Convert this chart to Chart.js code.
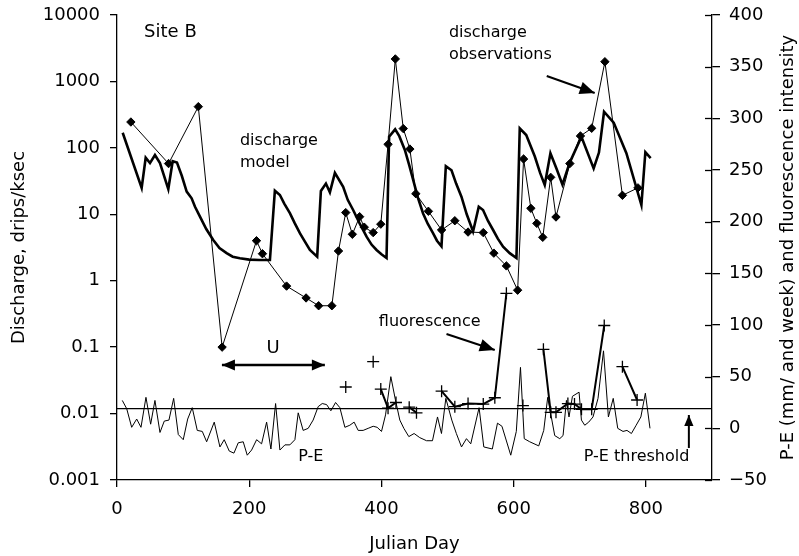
<!DOCTYPE html>
<html>
<head>
<meta charset="utf-8">
<script src="https://cdn.jsdelivr.net/npm/chart.js@4.4.1/dist/chart.umd.min.js"></script>
<style>
  html, body { margin: 0; padding: 0; background: #fff; }
  canvas { display: block; }
</style>
</head>
<body>
<canvas id="chart" width="799" height="556"></canvas>
<script>
// axes
const xTicks = [0, 200, 400, 600, 800];
const dischargeTicks = [0.001, 0.01, 0.1, 1, 10, 100, 1000, 10000];
const rightTicks = [-50, 0, 50, 100, 150, 200, 250, 300, 350, 400];

// discharge observations (drips/ksec)
const obsDays = [21, 78, 123, 159, 211, 220, 256.5, 286, 305, 325, 335, 346, 356, 367, 374, 387.5, 399, 410, 421, 433,
  443, 452, 471, 491, 511, 531, 554, 570, 589, 606, 615, 626, 635, 644, 656, 664, 685, 701, 718, 738, 764.5, 788];
const obsValues = [245, 58, 417, 0.1, 4.0, 2.55, 0.83, 0.55, 0.42, 0.42, 2.8, 10.6, 5.0, 9.2, 6.4, 5.3, 7.1, 113, 2180, 195,
  96, 20.4, 11.1, 5.8, 8.0, 5.4, 5.3, 2.6, 1.67, 0.72, 68, 12.3, 7.3, 4.5, 36, 9.1, 58, 151, 197, 1980, 19.3, 25];

// discharge model
const modelDays = [8.6, 37.3, 43.4, 49.9, 57.4, 65, 77.6, 84.2, 90.7, 98, 105.4, 112.9, 118, 125.5, 135, 145.6, 155, 165.8, 175, 185.9,
  200, 215, 231.3, 238.8, 246.4, 253, 261.5, 269, 276.6, 284, 291.8, 302.8, 308.4, 316, 322, 329.6, 342.1, 349, 357.2, 367,
  377.5, 385, 392.6, 400, 407.7, 411.6, 420.7, 427, 435.4, 442, 448, 455, 463, 470, 478, 484, 490.8, 497.4, 506, 513,
  521, 529, 538.6, 547.2, 553.7, 561, 568.9, 576, 584, 594, 604.2, 609.2, 619, 632, 640, 647, 655.6, 665, 673.8, 684.8,
  702.5, 721, 729, 736.7, 751.3, 770.5, 793.2, 799.2, 807.2];
const modelValues = [169, 25, 71, 59, 78, 59, 24, 63, 60, 38, 22, 17.4, 13, 9.2, 6, 4.1, 3.1, 2.6, 2.3, 2.18,
  2.08, 2.05, 2.05, 22.6, 19.5, 14.5, 10.4, 7.3, 5.2, 3.9, 2.9, 2.3, 22.4, 29, 21.4, 42, 26, 16.5, 11.6, 7.3,
  4.6, 3.5, 2.9, 2.5, 2.2, 147, 190, 150, 93, 55, 33, 18, 10.3, 7.2, 5.2, 4.0, 3.3, 53, 46, 29,
  18.4, 10, 5.5, 13, 11.6, 8, 5.8, 4.3, 3.25, 2.6, 2.2, 197, 156, 74, 42, 27.6, 83, 48, 28, 60,
  147, 49, 85, 350, 240, 83, 13.8, 86, 70];

// fluorescence intensity (null = gap)
const fluorDays = [346, 367, 387.5, 393, 399, 410, 422, 432, 442, 453, 472, 491, 511, 531, 554, 571.5, 589, 601, 614, 630,
  645, 656, 664, 682, 692, 702.6, 718, 737, 750, 764.5, 786.7];
const fluorValues = [40, null, 64.5, null, 38, 19.5, 25, null, 20.5, 15, null, 36, 21, 24, 23.5, 29.6, 130.7, null, 22, null,
  76.5, 15.5, 15.5, 24, 23.5, 18.4, 18.4, 99.5, null, 59.7, 27.4];

// P-E (mm/week)
const peDays = [8, 14.7, 22.2, 29.8, 36.3, 43.8, 50.9, 57.4, 65, 71.5, 78.6, 85.7, 92.7, 100.2, 106.9, 113.8, 121.4, 129, 135.6, 147.1,
  155.7, 162.2, 169.8, 176.9, 183.4, 190.9, 197, 203.6, 211.2, 218.7, 226.3, 232.8, 239.9, 246.4, 254, 261.5, 269.1, 274.1, 281.6, 289.2,
  296.7, 304.3, 310.4, 317, 323.5, 330.6, 337.1, 344.7, 352.2, 358.7, 364.8, 372.3, 379.9, 387.5, 393.5, 400.1, 406.2, 414.2, 421, 427.8,
  433.9, 441.4, 449.4, 458, 468.2, 477.2, 484.8, 490.8, 497.4, 506.4, 513.3, 521.1, 528.6, 535.1, 547.7, 554.8, 567.7, 575.5, 582.3, 595.6,
  604, 610.3, 616, 624.3, 637.9, 645.5, 651.5, 662.1, 669.7, 674.7, 679.8, 683.7, 688.9, 698.9, 702.5, 707.5, 713.5, 720, 727.6, 735.9,
  743.3, 750.6, 757.4, 765.4, 771.4, 778.1, 785.3, 792.4, 799.2, 806.2];
const peValues = [27, 19, 1, 9, 1, 30, 4, 27, -4, 7, 8, 29, -6, -11, 9, 20, -2, -3, -13, 6,
  -18, -11, -22, -24, -14, -13, -26, -21, -11, -15, 6, -20, 24, -21, -16, -16, -11, 15, -2, 0,
  8, 21, 24, 23, 17, 25, 20, 1, 3, 6, -2, -2, 0, 2, 1, -3, 13, 50, 28, 8,
  0, -8, -5, -9, -12, -12, 11, -5, 29, 8, -5, -18, -10, -15, 20, -18, -20, 5, 2, -26,
  -3, 59, -10, -13, -17, -2, 30, -7, -10, -7, 27, 11, 31, 35, 8, 3, 6, 11, 29, 75,
  11, 29, 0, -3, -2, -5, 3, 11, 34, 0];

const peThreshold = 19;

// annotations, placed in data units (day, right-axis value)
const notes = [
  { text: 'Site B', day: 41, val: 383.5, size: 18 },
  { text: 'discharge', day: 186, val: 278 },
  { text: 'model', day: 186, val: 256.8 },
  { text: 'discharge', day: 502, val: 382.6 },
  { text: 'observations', day: 502, val: 361.3 },
  { text: 'fluorescence', day: 396, val: 103 },
  { text: 'P-E', day: 274, val: -27.7 },
  { text: 'P-E threshold', day: 706, val: -27.5 },
  { text: 'U', day: 236, val: 77.7, size: 18, align: 'center' }
];
const pointers = [
  { from: [650, 341], to: [722.6, 324.5], width: 2, head: 15 },
  { from: [498.4, 91.3], to: [571.4, 75.8], width: 2, head: 15 },
  { from: [865, -19], to: [865, 12.9], width: 2, head: 11 },
  { from: [158.7, 61.3], to: [314.4, 61.3], width: 2.5, head: 13, both: true }
];

const FONT = 'DejaVu Sans';
const pts = (xs, ys) => xs.map((d, i) => ({ x: d, y: ys[i] }));

function arrowHead(ctx, x0, y0, x1, y1, len) {
    const a = Math.atan2(y1 - y0, x1 - x0);
    const w = len * 0.42;
    ctx.beginPath();
    ctx.moveTo(x1, y1);
    ctx.lineTo(x1 - len * Math.cos(a) + w * Math.sin(a), y1 - len * Math.sin(a) - w * Math.cos(a));
    ctx.lineTo(x1 - len * Math.cos(a) - w * Math.sin(a), y1 - len * Math.sin(a) + w * Math.cos(a));
    ctx.closePath();
    ctx.fill();
}

const overlay = {
    id: 'overlay',
    afterDraw(chart) {
        const { ctx, scales: { x, y2 }, chartArea } = chart;
        const px = d => x.getPixelForValue(d);
        const py = v => y2.getPixelForValue(v);
        ctx.save();
        ctx.fillStyle = '#000';
        ctx.strokeStyle = '#000';
        ctx.textBaseline = 'middle';

        notes.forEach(n => {
            ctx.font = (n.size || 16) + 'px "' + FONT + '"';
            ctx.textAlign = n.align || 'left';
            ctx.fillText(n.text, px(n.day), py(n.val));
        });

        pointers.forEach(p => {
            const x0 = px(p.from[0]), y0 = py(p.from[1]);
            const x1 = px(p.to[0]), y1 = py(p.to[1]);
            ctx.lineWidth = p.width;
            ctx.beginPath();
            ctx.moveTo(x0, y0);
            ctx.lineTo(x1, y1);
            ctx.stroke();
            arrowHead(ctx, x0, y0, x1, y1, p.head);
            if (p.both) arrowHead(ctx, x1, y1, x0, y0, p.head);
        });

        // right axis ticks cross the axis line
        ctx.lineWidth = 1.3;
        y2.ticks.forEach(t => {
            const yy = Math.round(y2.getPixelForValue(t.value)) + 0.5;
            ctx.beginPath();
            ctx.moveTo(chartArea.right - 7, yy);
            ctx.lineTo(chartArea.right, yy);
            ctx.stroke();
        });

        // right axis title, reading bottom to top
        ctx.font = '18px "' + FONT + '"';
        ctx.textAlign = 'center';
        ctx.translate(y2.right - 11, (chartArea.top + chartArea.bottom) / 2);
        ctx.rotate(-Math.PI / 2);
        ctx.fillText('P-E (mm/ and week) and fluorescence intensity', 0, 0);
        ctx.restore();
    }
};

const axisFont = { family: FONT, size: 18 };

new Chart(document.getElementById('chart').getContext('2d'), {
    type: 'line',
    data: {
        datasets: [
            {
                label: 'discharge observations',
                data: pts(obsDays, obsValues),
                yAxisID: 'y',
                borderColor: '#000',
                borderWidth: 1,
                pointStyle: 'rectRot',
                pointRadius: 4.2,
                pointBackgroundColor: '#000',
                pointBorderColor: '#000',
                pointBorderWidth: 1
            },
            {
                label: 'discharge model',
                data: pts(modelDays, modelValues),
                yAxisID: 'y',
                borderColor: '#000',
                borderWidth: 2.6,
                pointRadius: 0
            },
            {
                label: 'fluorescence',
                data: pts(fluorDays, fluorValues),
                yAxisID: 'y2',
                borderColor: '#000',
                borderWidth: 2,
                pointStyle: 'cross',
                pointRadius: 6,
                pointBorderColor: '#000',
                pointBorderWidth: 1.3,
                spanGaps: false
            },
            {
                label: 'P-E',
                data: pts(peDays, peValues),
                yAxisID: 'y2',
                borderColor: '#000',
                borderWidth: 1,
                pointRadius: 0
            },
            {
                label: 'P-E threshold',
                data: [{ x: 0, y: peThreshold }, { x: 900, y: peThreshold }],
                yAxisID: 'y2',
                borderColor: '#000',
                borderWidth: 1.2,
                pointRadius: 0
            }
        ]
    },
    options: {
        responsive: false,
        animation: false,
        devicePixelRatio: 1,
        layout: { padding: { top: 15, left: 0, right: 0, bottom: 0 } },
        plugins: {
            legend: { display: false },
            tooltip: { enabled: false }
        },
        elements: { line: { tension: 0 } },
        scales: {
            x: {
                type: 'linear',
                min: 0,
                max: 900,
                afterBuildTicks: s => { s.ticks = xTicks.map(v => ({ value: v })); },
                afterFit: s => { s.height = 76; s.paddingLeft = 0; s.paddingRight = 0; },
                ticks: { color: '#000', font: axisFont, padding: 12, maxRotation: 0 },
                grid: { display: true, drawOnChartArea: false, tickLength: 7, color: '#000', lineWidth: 1.3 },
                border: { display: true, color: '#000', width: 1.3 },
                title: { display: true, text: 'Julian Day', color: '#000', font: axisFont, padding: { top: 0, bottom: 1 } }
            },
            y: {
                type: 'logarithmic',
                position: 'left',
                min: 0.001,
                max: 10000,
                afterBuildTicks: s => { s.ticks = dischargeTicks.map(v => ({ value: v })); },
                afterFit: s => { s.width = 117; s.paddingTop = 0; s.paddingBottom = 0; },
                ticks: { color: '#000', font: axisFont, padding: 10, callback: v => String(v) },
                grid: { display: true, drawOnChartArea: false, tickLength: 7, color: '#000', lineWidth: 1.3 },
                border: { display: true, color: '#000', width: 1.3 },
                title: { display: true, text: 'Discharge, drips/ksec', color: '#000', font: axisFont, padding: { top: 9, bottom: 0 } }
            },
            y2: {
                type: 'linear',
                position: 'right',
                min: -50,
                max: 400,
                afterBuildTicks: s => { s.ticks = rightTicks.map(v => ({ value: v })); },
                afterFit: s => { s.width = 87; s.paddingTop = 0; s.paddingBottom = 0; },
                ticks: { color: '#000', font: axisFont, padding: 9, callback: v => v < 0 ? '\u2212' + Math.abs(v) : String(v) },
                grid: { display: true, drawOnChartArea: false, tickLength: 8, color: '#000', lineWidth: 1.3 },
                border: { display: true, color: '#000', width: 1.3 }
            }
        }
    },
    plugins: [overlay]
});
</script>
</body>
</html>
